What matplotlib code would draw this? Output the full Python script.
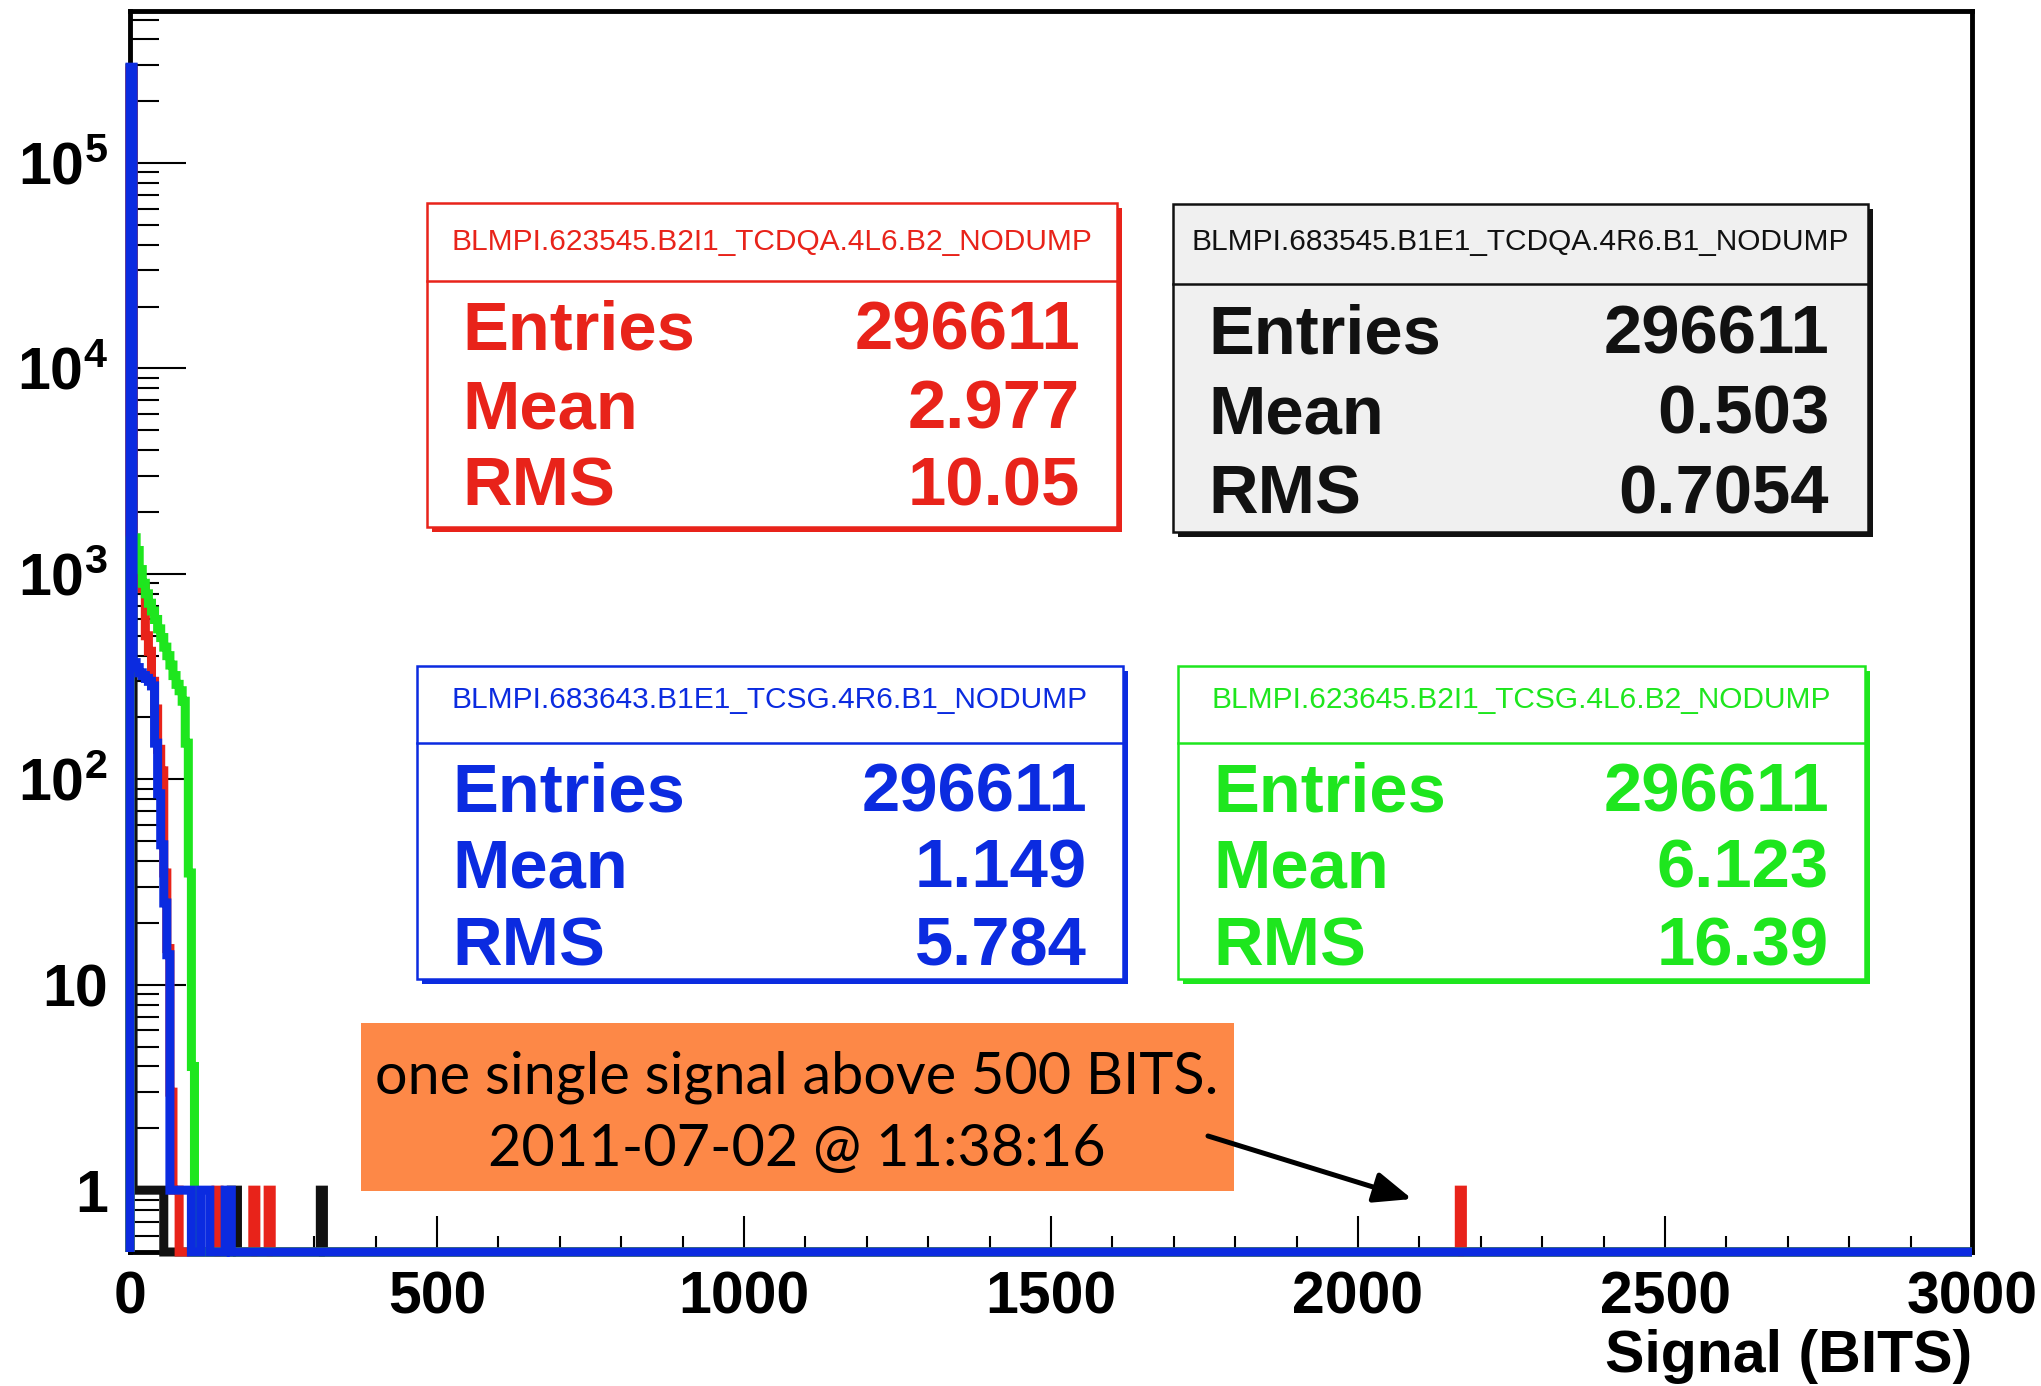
import numpy as np
import matplotlib
matplotlib.use("Agg")
import matplotlib.pyplot as plt
from matplotlib.patches import Rectangle, FancyArrowPatch, ArrowStyle
from matplotlib.ticker import LogLocator, MultipleLocator, NullFormatter

plt.rcParams['font.family'] = ['Liberation Sans', 'DejaVu Sans']
plt.rcParams['mathtext.fontset'] = 'custom'
plt.rcParams['mathtext.rm'] = 'Liberation Sans:bold'
plt.rcParams['mathtext.default'] = 'rm'

# binning of the signal histograms (BITS)
bin_width = 5
x_max = 3000
y_min, y_max = 0.5, 5.5e5

# only the filled bins: lower bin edge and bin content
red_lo = [0, 5, 10, 15, 20, 25, 30, 35, 40, 45, 50, 55, 60, 65, 70, 75, 140, 200, 225, 2165]
red_n = [280000, 1000, 950, 900, 850, 500, 420, 300, 220, 140, 110, 35, 15, 3, 1, 1, 1, 1, 1, 1]

black_lo = [0, 5, 10, 15, 20, 25, 30, 35, 40, 45, 50, 165, 170, 310]
black_n = [290000, 1, 1, 1, 1, 1, 1, 1, 1, 1, 1, 1, 1, 1]

green_lo = [0, 5, 10, 15, 20, 25, 30, 35, 40, 45, 50, 55, 60, 65, 70, 75, 80, 85, 90, 95, 100]
green_n = [1450, 1500, 1300, 1050, 900, 800, 720, 660, 600, 540, 490, 440, 400, 360, 320, 290, 270, 240, 150, 35, 4]

blue_lo = [0, 5, 10, 15, 20, 25, 30, 35, 40, 45, 50, 55, 60, 65, 70, 75, 80, 85, 90, 95,
           115, 120, 125, 155, 160]
blue_n = [293000, 370, 350, 330, 320, 310, 300, 285, 150, 85, 48, 25, 14, 1, 1, 1, 1, 1, 1, 1,
          1, 1, 1, 1, 1]

# statistics boxes
names = ["BLMPI.623545.B2I1_TCDQA.4L6.B2_NODUMP",
         "BLMPI.683545.B1E1_TCDQA.4R6.B1_NODUMP",
         "BLMPI.683643.B1E1_TCSG.4R6.B1_NODUMP",
         "BLMPI.623645.B2I1_TCSG.4L6.B2_NODUMP"]
entries = ["296611", "296611", "296611", "296611"]
means = ["2.977", "0.503", "1.149", "6.123"]
rms = ["10.05", "0.7054", "5.784", "16.39"]

y_ticks = [1, 10, 100, 1000, 1e4, 1e5]
y_ticklabels = ['1', '10', r'$10^{2}$', r'$10^{3}$', r'$10^{4}$', r'$10^{5}$']
x_ticks = [0, 500, 1000, 1500, 2000, 2500, 3000]

note_lines = ["one single signal above 500 BITS.", "2011-07-02 @ 11:38:16"]

c_red = '#e8231a'
c_black = '#111111'
c_blue = '#0b2be0'
c_green = '#1ee61e'

edges = np.arange(0, x_max + bin_width, bin_width)


def fill_hist(lo, n):
    h = np.full(len(edges) - 1, y_min)
    idx = (np.asarray(lo) // bin_width).astype(int)
    h[idx] = n
    return h


W, H = 2041.0, 1386.0


def fx(px):
    return px / W


def fy(py):
    return 1.0 - py / H


fig = plt.figure(figsize=(W / 100, H / 100), dpi=100)
ax = fig.add_axes([fx(130), fy(1252), fx(1972) - fx(130), fy(11) - fy(1252)])
ax.set_yscale('log')
ax.set_xlim(0, x_max)
ax.set_ylim(y_min, y_max)

for lo, n, c in [(black_lo, black_n, c_black), (red_lo, red_n, c_red),
                 (green_lo, green_n, c_green), (blue_lo, blue_n, c_blue)]:
    ax.stairs(fill_hist(lo, n), edges, baseline=y_min, color=c, lw=6.5,
              zorder=3, clip_on=False)

for s in ['top', 'right', 'left', 'bottom']:
    ax.spines[s].set_linewidth(3.5)
    ax.spines[s].set_color('black')

ax.set_yticks(y_ticks, labels=y_ticklabels, fontsize=42.5, fontweight='bold')
ax.yaxis.set_minor_locator(LogLocator(base=10, subs=np.arange(2, 10), numticks=20))
ax.yaxis.set_minor_formatter(NullFormatter())
ax.set_xticks(x_ticks, labels=[str(v) for v in x_ticks], fontsize=42.5, fontweight='bold')
ax.xaxis.set_minor_locator(MultipleLocator(100))
ax.tick_params(axis='y', which='major', direction='in', length=40, width=1.5, pad=16,
               right=False)
ax.tick_params(axis='y', which='minor', direction='in', length=21, width=1.5, right=False)
ax.tick_params(axis='x', which='major', direction='in', length=26, width=1.5, pad=13,
               top=False)
ax.tick_params(axis='x', which='minor', direction='in', length=11.5, width=1.5, top=False)
ax.set_xlabel('Signal (BITS)', loc='right', fontsize=42.5, fontweight='bold', labelpad=3)

# statistics boxes
boxes = [
    dict(x0=427, x1=1117, y0=203, y1=527, ydiv=281, ty=242, xl=462, xr=1080,
         base=[349, 428, 506], color=c_red, face='white'),
    dict(x0=1173, x1=1868, y0=204, y1=532, ydiv=284, ty=242, xl=1208, xr=1829,
         base=[353, 433, 514], color=c_black, face='#f0f0f0'),
    dict(x0=417, x1=1123, y0=666, y1=979, ydiv=743, ty=700, xl=452, xr=1087,
         base=[811, 888, 966], color=c_blue, face='white'),
    dict(x0=1178, x1=1865, y0=666, y1=979, ydiv=743, ty=700, xl=1213, xr=1829,
         base=[811, 888, 966], color=c_green, face='white'),
]

for i, b in enumerate(boxes):
    w = fx(b['x1']) - fx(b['x0'])
    h = fy(b['y0']) - fy(b['y1'])
    fig.add_artist(Rectangle((fx(b['x0'] + 5), fy(b['y1'] + 5)), w, h,
                             transform=fig.transFigure, facecolor=b['color'],
                             edgecolor='none', zorder=5))
    fig.add_artist(Rectangle((fx(b['x0']), fy(b['y1'])), w, h,
                             transform=fig.transFigure, facecolor=b['face'],
                             edgecolor=b['color'], lw=1.8, zorder=6))
    fig.add_artist(plt.Line2D([fx(b['x0']), fx(b['x1'])], [fy(b['ydiv'])] * 2,
                              transform=fig.transFigure, color=b['color'], lw=1.8,
                              zorder=7))
    fig.text(fx((b['x0'] + b['x1']) / 2), fy(b['ty']), names[i], color=b['color'],
             fontsize=21.5, ha='center', va='center', zorder=8)
    rows = [("Entries", entries[i]), ("Mean", means[i]), ("RMS", rms[i])]
    for (key, val), yb in zip(rows, b['base']):
        fig.text(fx(b['xl']), fy(yb), key, color=b['color'], fontsize=49.5,
                 fontweight='bold', ha='left', va='baseline', zorder=8)
        fig.text(fx(b['xr']), fy(yb), val, color=b['color'], fontsize=49.5,
                 fontweight='bold', ha='right', va='baseline', zorder=8)

# note on the isolated high signal
fig.add_artist(Rectangle((fx(361), fy(1191)), fx(1234) - fx(361), fy(1023) - fy(1191),
                         transform=fig.transFigure, facecolor='#fd8847',
                         edgecolor='none', zorder=9))
for line, yb in zip(note_lines, [1093, 1166]):
    fig.text(fx(797), fy(yb), line, family='Lato', fontsize=41.5, color='black',
             ha='center', va='baseline', zorder=10)

arrow = FancyArrowPatch((fx(1208), fy(1136)), (fx(1412), fy(1199)),
                        transform=fig.transFigure,
                        arrowstyle=ArrowStyle('-|>', head_length=1.15, head_width=0.47),
                        mutation_scale=20, lw=3.6, color='black',
                        shrinkA=0, shrinkB=0, zorder=10)
fig.add_artist(arrow)

fig.savefig('out.png', dpi=100)
